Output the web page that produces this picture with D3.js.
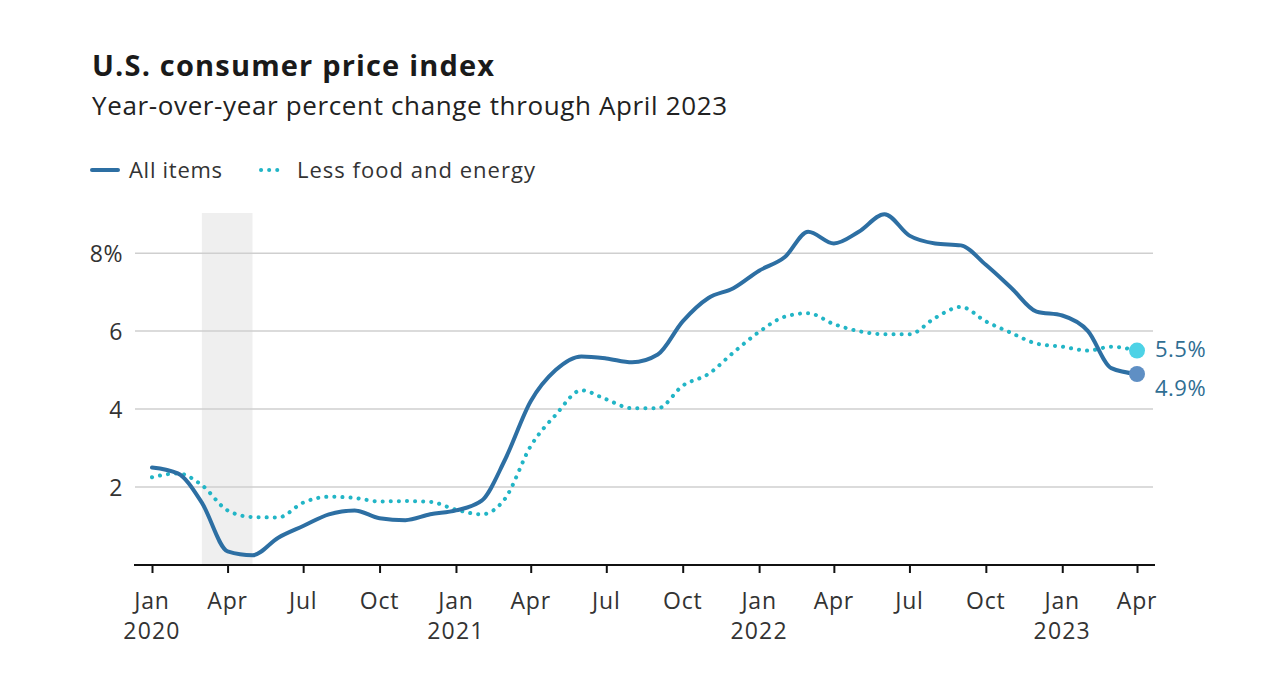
<!DOCTYPE html>
<html>
<head>
<meta charset="utf-8">
<script src="https://cdn.jsdelivr.net/npm/d3@7"></script>
<style>
  html, body { margin: 0; padding: 0; background: #fff; }
  svg { display: block; font-family: "Open Sans", "Lato", sans-serif; }
</style>
</head>
<body>
<svg id="chart" width="1270" height="684"></svg>
<script>
// ---- data ----
const months = [
  "2020-01","2020-02","2020-03","2020-04","2020-05","2020-06","2020-07","2020-08","2020-09","2020-10","2020-11","2020-12",
  "2021-01","2021-02","2021-03","2021-04","2021-05","2021-06","2021-07","2021-08","2021-09","2021-10","2021-11","2021-12",
  "2022-01","2022-02","2022-03","2022-04","2022-05","2022-06","2022-07","2022-08","2022-09","2022-10","2022-11","2022-12",
  "2023-01","2023-02","2023-03","2023-04"
];
const allItems = [
  2.5, 2.35, 1.6, 0.35, 0.25, 0.7, 1.0, 1.3, 1.4, 1.2, 1.15, 1.3,
  1.4, 1.65, 2.7, 4.2, 5.0, 5.35, 5.3, 5.2, 5.4, 6.25, 6.85, 7.1,
  7.55, 7.9, 8.55, 8.25, 8.55, 9.0, 8.45, 8.25, 8.2, 7.7, 7.1, 6.5,
  6.4, 6.0, 5.05, 4.9
];
const coreItems = [
  2.25, 2.35, 2.05, 1.4, 1.23, 1.22, 1.6, 1.75, 1.72, 1.63, 1.64, 1.62,
  1.42, 1.3, 1.7, 3.05, 3.85, 4.48, 4.25, 4.02, 4.02, 4.6, 4.9, 5.45,
  5.98, 6.37, 6.46, 6.18, 6.0, 5.92, 5.92, 6.34, 6.62, 6.25, 5.95, 5.68,
  5.6, 5.5, 5.6, 5.5
];
const yTicks = [2, 4, 6, 8];
const xTickMonths = ["2020-01","2020-04","2020-07","2020-10","2021-01","2021-04","2021-07","2021-10",
  "2022-01","2022-04","2022-07","2022-10","2023-01","2023-04"];
const monthNames = ["Jan","Feb","Mar","Apr","May","Jun","Jul","Aug","Sep","Oct","Nov","Dec"];
const recession = ["2020-03", "2020-05"];
const seriesNames = ["All items", "Less food and energy"];
const endLabels = ["4.9%", "5.5%"];

// ---- setup ----
const parse = d3.timeParse("%Y-%m");
const dates = months.map(parse);
const svg = d3.select("#chart");

const x = d3.scaleTime()
  .domain([parse("2020-01"), parse("2023-04")])
  .range([152, 1137]);
const y = d3.scaleLinear().domain([0, 9.03]).range([565, 213]);

const colAll = "#2d6fa3";
const colCore = "#22b5c6";
const textCol = "#333333";

// title
svg.append("text").attr("x", 92).attr("y", 76)
  .attr("font-size", 29).attr("font-weight", 700).attr("fill", "#1a1a1a")
  .attr("textLength", 402).attr("lengthAdjust", "spacing")
  .text("U.S. consumer price index");
svg.append("text").attr("x", 92).attr("y", 115)
  .attr("font-size", 26).attr("fill", "#222")
  .attr("textLength", 635).attr("lengthAdjust", "spacing")
  .text("Year-over-year percent change through April 2023");

// legend
const lg = svg.append("g");
lg.append("line").attr("x1", 92).attr("x2", 118).attr("y1", 170).attr("y2", 170)
  .attr("stroke", colAll).attr("stroke-width", 4).attr("stroke-linecap", "round");
lg.append("text").attr("x", 129).attr("y", 178).attr("font-size", 22).attr("fill", textCol)
  .attr("textLength", 93).attr("lengthAdjust", "spacing").text(seriesNames[0]);
lg.append("line").attr("x1", 261).attr("x2", 279).attr("y1", 170).attr("y2", 170)
  .attr("stroke", colCore).attr("stroke-width", 4).attr("stroke-linecap", "round")
  .attr("stroke-dasharray", "0.1 8");
lg.append("text").attr("x", 297).attr("y", 178).attr("font-size", 22).attr("fill", textCol)
  .attr("textLength", 238).attr("lengthAdjust", "spacing").text(seriesNames[1]);

// recession band
svg.append("rect")
  .attr("x", x(parse(recession[0])))
  .attr("width", x(parse(recession[1])) - x(parse(recession[0])))
  .attr("y", y.range()[1]).attr("height", y(0) - y.range()[1])
  .attr("fill", "#efefef");

// gridlines
svg.append("g").selectAll("line").data(yTicks).join("line")
  .attr("x1", 135).attr("x2", 1153)
  .attr("y1", d => y(d)).attr("y2", d => y(d))
  .attr("stroke", "#cfcfcf").attr("stroke-width", 1.5);

// y labels
svg.append("g").selectAll("text").data(yTicks).join("text")
  .attr("x", 123).attr("y", d => y(d) + 8.5)
  .attr("text-anchor", "end").attr("font-size", 23).attr("fill", textCol)
  .attr("letter-spacing", 0.5)
  .text(d => d === 8 ? d + "%" : d);

// x axis
const xAxis = d3.axisBottom(x)
  .tickValues(xTickMonths.map(parse))
  .tickSize(8).tickFormat("");
const gx = svg.append("g").attr("transform", `translate(0,${y(0)})`).call(xAxis);
gx.select(".domain").remove();
gx.selectAll(".tick line").attr("stroke", "#111").attr("stroke-width", 2);
svg.append("line").attr("x1", 134).attr("x2", 1155).attr("y1", y(0)).attr("y2", y(0))
  .attr("stroke", "#111").attr("stroke-width", 2);

const xl = svg.append("g").selectAll("g").data(xTickMonths.map(parse)).join("g")
  .attr("transform", d => `translate(${x(d)},0)`);
xl.append("text").attr("y", 609).attr("text-anchor", "middle")
  .attr("font-size", 23).attr("fill", textCol).attr("letter-spacing", 0.8)
  .text(d => monthNames[d.getMonth()]);
xl.filter(d => d.getMonth() === 0).append("text").attr("y", 639).attr("text-anchor", "middle")
  .attr("font-size", 23).attr("fill", textCol).attr("letter-spacing", 1.2)
  .text(d => d.getFullYear());

// lines
const line = d3.line().x(d => x(d[0])).y(d => y(d[1])).curve(d3.curveMonotoneX);
const allData = dates.map((d, i) => [d, allItems[i]]);
const coreData = dates.map((d, i) => [d, coreItems[i]]);

svg.append("path").datum(coreData).attr("d", line)
  .attr("fill", "none").attr("stroke", colCore).attr("stroke-width", 4)
  .attr("stroke-linecap", "round").attr("stroke-dasharray", "0.1 8");
svg.append("path").datum(allData).attr("d", line)
  .attr("fill", "none").attr("stroke", colAll).attr("stroke-width", 4)
  .attr("stroke-linecap", "round").attr("stroke-linejoin", "round");

// end points
const lastD = dates[dates.length - 1];
const lastAll = allItems[allItems.length - 1];
const lastCore = coreItems[coreItems.length - 1];
svg.append("circle").attr("cx", x(lastD)).attr("cy", y(lastCore)).attr("r", 8)
  .attr("fill", "#4dd2e6");
svg.append("circle").attr("cx", x(lastD)).attr("cy", y(lastAll)).attr("r", 8)
  .attr("fill", "#5f8fc4");
svg.append("text").attr("x", 1155).attr("y", y(lastCore) + 6.5)
  .attr("font-size", 22).attr("fill", "#2f6e93").attr("letter-spacing", 0.5).text(endLabels[1]);
svg.append("text").attr("x", 1155).attr("y", y(lastAll) + 22)
  .attr("font-size", 22).attr("fill", "#2f6e93").attr("letter-spacing", 0.5).text(endLabels[0]);
</script>
</body>
</html>
